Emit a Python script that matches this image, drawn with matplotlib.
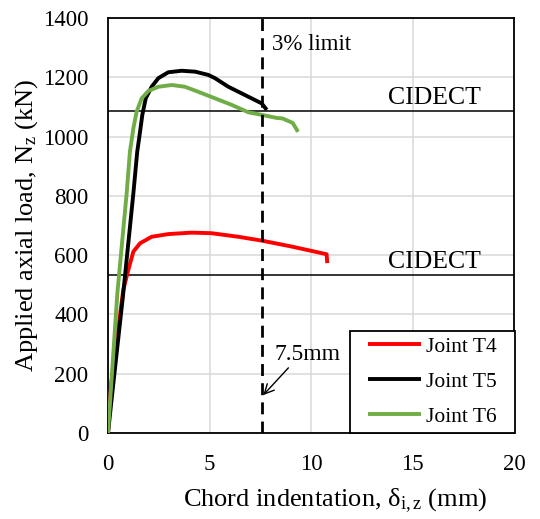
import matplotlib
matplotlib.use("Agg")
import matplotlib.pyplot as plt
from matplotlib.patches import Rectangle

plt.rcParams['font.family'] = ['Liberation Serif', 'DejaVu Serif']
plt.rcParams['mathtext.fontset'] = 'custom'
plt.rcParams['mathtext.rm'] = 'Liberation Serif'
plt.rcParams['mathtext.it'] = 'Liberation Serif:italic'

# Joint T4 (red)
t4_x = [0, 0.16, 0.75, 1.0, 1.25, 1.58, 2.15, 2.97, 4.12, 5.1, 6.42, 7.57, 9.05, 10.77, 10.8]
t4_y = [0, 168, 482, 550, 612, 640, 662, 671, 676, 674, 662, 649, 629, 603, 573]
# Joint T5 (black)
t5_x = [0, 0.21, 0.75, 1.25, 1.44, 1.58, 1.69, 1.86, 2.15, 2.48, 2.97, 3.63, 4.29, 4.94, 5.27, 5.93, 6.75, 7.57, 7.82]
t5_y = [0, 134, 471, 809, 949, 1017, 1073, 1129, 1168, 1197, 1217, 1222, 1219, 1208, 1197, 1168, 1140, 1112, 1090]
# Joint T6 (green)
t6_x = [0, 0.13, 0.46, 0.92, 1.08, 1.25, 1.41, 1.66, 1.99, 2.48, 3.14, 3.79, 4.45, 5.27, 6.09, 6.91, 7.73, 8.3, 8.6, 9.1, 9.36]
t6_y = [0, 134, 471, 809, 949, 1028, 1084, 1129, 1154, 1168, 1174, 1168, 1151, 1129, 1107, 1082, 1071, 1063, 1061, 1046, 1016]

series_labels = ['Joint T4', 'Joint T5', 'Joint T6']
series_colors = ['#ff0000', '#000000', '#70ad47']

cidect_limits = [1085, 533]
limit_3pct = 7.6

x_ticks = [0, 5, 10, 15, 20]
y_ticks = [0, 200, 400, 600, 800, 1000, 1200, 1400]

fig = plt.figure(figsize=(5.4, 5.19), dpi=100)
ax = fig.add_axes([108/540, 1-433/519, (514-108)/540, (433-18)/519])

for xs, ys, lab, c in zip([t4_x, t5_x, t6_x], [t4_y, t5_y, t6_y], series_labels, series_colors):
    ax.plot(xs, ys, color=c, lw=2.8, label=lab, solid_joinstyle='round', solid_capstyle='butt', zorder=3)

for v in cidect_limits:
    ax.axhline(v, color='black', lw=1.1, zorder=2)
    ax.text(13.8, v + 8, 'CIDECT', fontsize=18.5, ha='left', va='bottom')

ax.axvline(limit_3pct, color='black', lw=2.0, dashes=(4.3, 2.6), zorder=4)
ax.text(8.1, 1309, '3% limit', fontsize=16.5, ha='left', va='center')
ax.annotate('7.5mm', xy=(7.65, 128), xytext=(8.2, 246), fontsize=17, ha='left', va='baseline',
            arrowprops=dict(arrowstyle='->', color='black', lw=1.0, shrinkA=0, shrinkB=0,
                            relpos=(0.25, 0)))

ax.set_xlim(0, 20)
ax.set_ylim(0, 1400)
ax.set_xticks(x_ticks)
ax.set_yticks(y_ticks)
ax.grid(True, color='#d9d9d9', lw=1.1, zorder=0)
ax.set_axisbelow(True)
ax.tick_params(length=0, labelsize=16.5)
ax.tick_params(axis='y', pad=14)
ax.tick_params(axis='x', pad=15)
for s in ax.spines.values():
    s.set_color('black')
    s.set_linewidth(1.3)

ax.set_xlabel('Chord indentation, δ$_{\\mathrm{i,z}}$ (mm)', fontsize=19)
ax.set_ylabel('Applied axial load, N$_{\\mathrm{z}}$ (kN)', fontsize=19)
ax.xaxis.label.set_verticalalignment('center')
ax.yaxis.label.set_verticalalignment('center')
ax.xaxis.set_label_coords((335 - 108) / 406, -(501 - 433) / 415, transform=ax.transAxes)
ax.yaxis.set_label_coords(-(108 - 27) / 406, 0.5, transform=ax.transAxes)

# legend frame drawn as a plain box
box_x0 = (350 - 108) / 406
box_w = (515 - 350) / 406
box_h = (433 - 330.7) / 415
frame = Rectangle((box_x0, 0), box_w, box_h, transform=ax.transAxes, facecolor='white',
                  edgecolor='black', lw=1.3, zorder=5, clip_on=False)
ax.add_patch(frame)
leg = ax.legend(loc='center', bbox_to_anchor=(box_x0 + box_w / 2, box_h / 2), borderaxespad=0,
                fontsize=15.5, frameon=False, handlelength=2.46, labelspacing=0.69,
                handletextpad=0.25, borderpad=0)
leg.set_zorder(6)

fig.savefig('out.png', dpi=100)
